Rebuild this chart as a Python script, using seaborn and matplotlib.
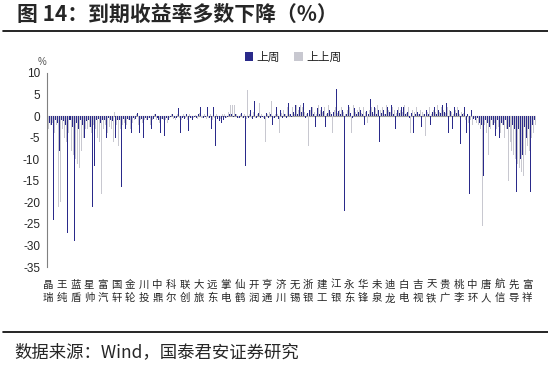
import numpy as np
import pandas as pd
import seaborn as sns
import matplotlib.pyplot as plt
from matplotlib.patches import Patch
from matplotlib.lines import Line2D

# 标注的转债简称（每 7 只标一个）
label_top = list("晶王蓝星富国金川中科联大远掌仙开亨济无浙建江永华未迪白吉天贵桃中唐航先富")
label_bot = list("瑞纯盾帅汽轩轮投鼎尔创旅东电鹤润通川锡银工银东锋泉龙电视铁广李环人信导祥")

# 上周到期收益率变化（%）
last_week = [
    -19.5, -1.5, -2.0, -24.0, -1.0, -1.5, -8.0, -0.8, -1.2, -2.0,
    -27.0, -1.0, -0.8, -2.5, -29.0, -1.5, -3.0, -1.0, -2.0, -5.0,
    -1.2, -0.8, -2.5, -21.0, -11.5, -1.0, -0.6, -1.5, -0.8, -1.0,
    -5.0, -0.5, -0.8, -1.2, -0.6, -5.0, -0.8, -1.0, -16.5, -0.7,
    -3.0, -0.6, -0.8, -4.0, -0.5, -0.7, 0.8, -4.0, -0.6, -5.0,
    -0.5, -0.8, -0.4, -3.0, -0.6, 0.5, -0.5, -0.8, -4.0, -0.6,
    -4.5, -0.5, -0.8, -0.3, 0.6, -0.5, -0.4, 1.8, -4.0, -0.5,
    -0.6, 0.4, -3.5, -0.5, -0.8, -0.3, -0.4, 0.5, 2.0, -11.6,
    -0.5, -0.3, 2.0, -0.4, -3.0, 2.0, -7.0, -0.6, -1.2, -1.5,
    -0.8, -0.5, -0.3, 0.4, 0.5, -0.3, 0.6, -0.4, -0.5, 0.8,
    -0.5, -11.5, 0.6, -0.4, 1.5, -0.6, 3.5, -0.4, 0.8, -0.5,
    -0.3, -0.6, 0.7, -0.4, 0.5, -2.0, -0.5, 2.0, -0.6, 1.5,
    -0.4, 0.6, -0.5, 3.0, 0.5, -0.3, 1.0, 2.5, 0.4, 2.0,
    1.0, 3.0, -0.5, 0.8, 1.5, 2.0, 0.6, -2.5, 1.8, 0.5,
    2.0, 1.2, -2.5, 0.8, 1.5, 0.5, 1.0, 0.8, 6.3, 1.2,
    0.5, 1.5, -22.0, 0.6, 2.5, 0.8, -0.5, 1.8, 0.6, 1.0,
    1.5, 0.5, -2.0, 1.2, 0.6, 4.0, 1.0, 2.0, 0.5, 1.5,
    -6.0, 0.8, 1.5, 0.6, 2.0, 1.0, 2.5, 0.5, -3.0, 1.5,
    0.8, 2.0, 2.0, 0.5, 1.0, -0.5, 0.8, -4.0, 0.6, 1.0,
    0.5, -2.5, 0.8, 0.4, 1.5, 0.6, -2.0, 1.0, 2.0, 0.5,
    1.5, 0.8, 2.5, 1.0, 3.0, -4.0, 1.2, -3.0, 2.0, 0.8,
    1.5, -6.5, 0.5, 2.0, -4.0, 0.6, -18.0, 1.5, -0.6, -1.0,
    -0.5, -1.5, -2.0, -14.0, -1.0, -1.5, -2.5, -1.0, -2.0, -4.5,
    -1.0, -5.0, -1.5, -2.0, -1.0, -3.0, -2.5, -1.5, -2.0, -3.0,
    -17.6, -3.0, -10.0, -9.0, -2.5, -5.0, -3.0, -17.5, -2.0, -1.0,
]

# 上上周到期收益率变化（%）
week_before = [
    -3.0, -2.0, -1.5, -4.0, -2.0, -21.0, -20.0, -3.0, -5.0, -6.0,
    -4.0, -7.0, -8.0, -9.0, -10.0, -11.0, -12.0, -8.0, -5.0, -3.0,
    -3.0, -2.5, -4.0, -2.0, -3.0, -5.0, -6.0, -18.0, -3.0, -2.0,
    -4.0, -2.5, -3.0, -6.0, 1.0, -2.0, -7.0, -3.0, -2.0, -1.5,
    -2.0, -1.0, -3.0, -1.5, -1.0, 0.5, -2.0, -1.0, -1.5, -0.8,
    -1.0, -0.5, -2.0, -0.8, 0.5, -1.0, -0.5, -1.5, -0.6, -1.0,
    -0.8, -1.5, -0.5, 0.4, -0.6, -1.0, 0.5, -0.4, -0.8, 0.5,
    -0.5, -1.0, 0.6, -0.4, -0.5, 0.3, -0.6, 0.8, -0.5, -0.4,
    0.5, -0.6, -0.4, 0.6, -1.0, -0.5, 0.4, -0.3, -0.6, 0.5,
    0.4, -0.5, 1.0, 2.5, 2.5, 2.5, 0.5, -0.4, 0.6, -0.5,
    0.5, -0.6, 6.0, 0.4, -0.5, 1.0, -0.4, 0.6, 3.0, 0.5,
    -0.4, -6.0, 0.5, 1.0, 3.5, -0.5, 0.6, 0.4, -4.0, 0.8,
    1.5, 0.5, 2.0, 0.6, 1.0, 2.0, 0.5, 2.5, 1.5, 2.5,
    2.0, 1.0, 0.5, -7.0, 1.5, 2.0, 1.0, 0.6, 2.5, 1.5,
    1.0, 2.0, 0.5, 2.5, 1.0, -4.0, 1.5, 2.0, 0.8, 1.5,
    2.0, 1.0, 0.5, 1.5, 2.0, -4.0, 2.5, 1.0, 1.5, 2.0,
    0.8, 2.0, 1.0, -1.5, 1.5, 2.0, 0.5, 1.8, 2.5, 1.0,
    1.5, 2.0, 0.6, 2.5, 1.5, 1.0, 2.0, 1.5, 0.8, 2.0,
    1.5, 1.0, 2.5, 0.8, 2.0, -4.0, 1.5, 1.0, 2.0, 0.5,
    1.5, 1.0, 0.6, -4.5, 1.0, 2.0, 0.5, 1.5, 1.0, 2.5,
    1.0, 2.0, 1.5, 0.8, 2.0, 1.5, 1.0, 0.5, 1.5, 2.0,
    0.5, 1.0, 0.8, -1.0, 0.5, -1.5, -1.0, -2.0, -0.5, -1.5,
    -2.0, -3.0, -25.5, -2.0, -4.0, -9.0, -3.0, -2.0, -1.5, -3.0,
    -2.5, -4.0, -2.0, -5.0, -3.0, -15.0, -6.0, -8.0, -9.0, -10.0,
    -11.0, -12.0, -13.0, -14.0, -9.0, -7.0, -8.0, -5.0, -4.0, -2.0,
]

series = ["上周", "上上周"]
colors = {"上周": "#2a2a8a", "上上周": "#c8c8d0"}

n = len(last_week)
df = pd.DataFrame({
    "idx": list(range(n)) * 2,
    "series": [series[0]] * n + [series[1]] * n,
    "value": last_week + week_before,
})

sns.set_style("white")
plt.rcParams['font.family'] = ['Noto Sans CJK SC', 'DejaVu Sans']
plt.rcParams['axes.unicode_minus'] = False

fig = plt.figure(figsize=(5.48, 3.69), dpi=100)
ax = fig.add_axes([0.0858, 0.2764, 0.8922, 0.5258])

sns.barplot(data=df, x="idx", y="value", hue="series", hue_order=series,
            palette=colors, dodge=True, width=1.0, saturation=1,
            linewidth=0, legend=False, ax=ax)

ax.set_ylim(-35, 10)
ax.set_xlim(-0.5, n - 0.5)
ax.set_yticks(range(-35, 11, 5))
ax.set_yticklabels([str(v) for v in range(-35, 11, 5)],
                   family=['Liberation Sans'], fontsize=8.5)
ax.axhline(0, color="#a0a0a0", lw=0.8, zorder=0)

ticks = list(range(0, n, 7))
ax.set_xticks(ticks)
ax.set_xticklabels([t + "\n" + b for t, b in zip(label_top, label_bot)],
                   fontsize=7.5, linespacing=1.45)
ax.tick_params(axis="x", length=0, pad=9)
ax.tick_params(axis="y", length=3, width=0.8, color="#808080", direction="out", pad=2)
ax.set_xlabel("")
ax.set_ylabel("")
for s in ["top", "right", "bottom"]:
    ax.spines[s].set_visible(False)
ax.spines["left"].set_color("#808080")
ax.spines["left"].set_linewidth(0.8)

fig.text(0.068, 0.825, "%", fontsize=7, color="#555555", family=['Liberation Sans'])

handles = [Patch(facecolor=colors[s], edgecolor="none") for s in series]
fig.legend(handles, series, loc="center", bbox_to_anchor=(0.535, 0.845), ncol=2,
           frameon=False, fontsize=8.5, handlelength=0.7, handleheight=0.7,
           handletextpad=0.3, columnspacing=1.2)

# 标题、分隔线和数据来源
fig.text(0.031, 0.962, "图 14：到期收益率多数下降（%）", fontsize=15,
         fontweight="bold", va="center", ha="left")
fig.add_artist(Line2D([0.005, 1.0], [0.917, 0.917], color="black", lw=1.2))
fig.add_artist(Line2D([0.005, 1.0], [0.099, 0.099], color="black", lw=1.2))
fig.text(0.027, 0.046, "数据来源：Wind，国泰君安证券研究", fontsize=12.5,
         va="center", ha="left")

fig.savefig("out.png", dpi=100)
